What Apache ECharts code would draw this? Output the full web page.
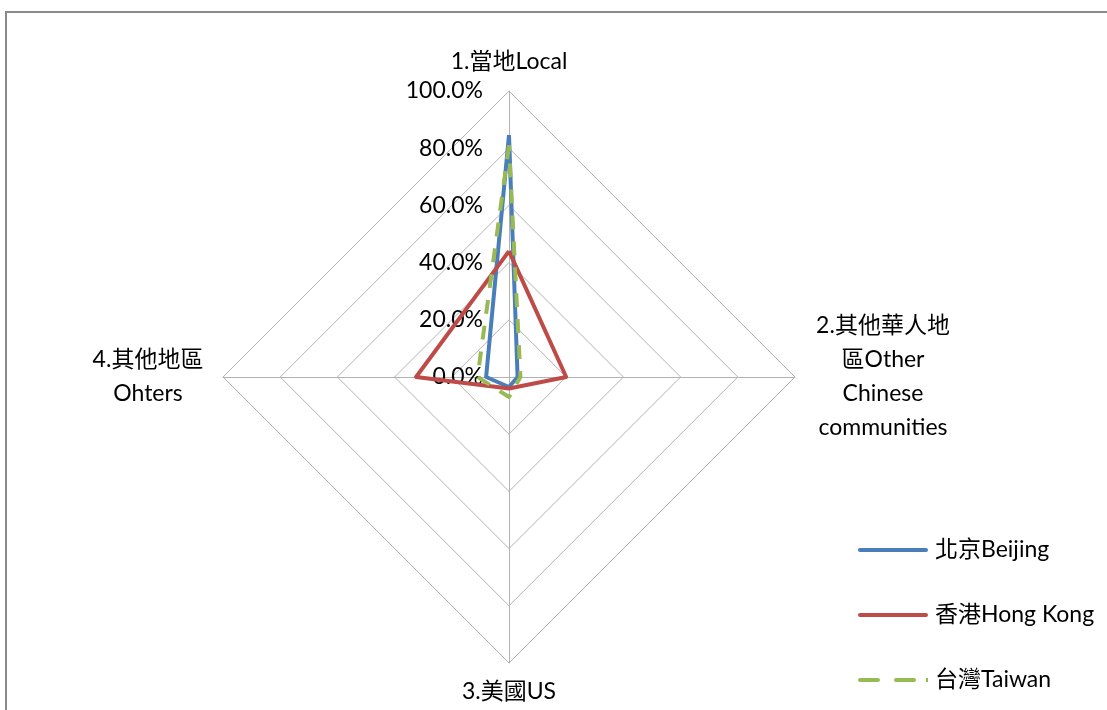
<!DOCTYPE html>
<html><head><meta charset="utf-8">
<script src="https://cdn.jsdelivr.net/npm/echarts@6/dist/echarts.min.js"></script>
<style>
html,body{margin:0;padding:0;background:#fff;}
#frame{position:absolute;left:5px;top:11px;width:1200px;height:800px;border-top:2px solid #8a8a8a;border-left:2px solid #8a8a8a;}
#chart{position:absolute;left:0;top:0;width:1107px;height:710px;}
</style></head>
<body>
<div id="frame"></div>
<div id="chart"></div>
<script>
var categories = ['1.當地Local', '4.其他地區\nOhters', '3.美國US', '2.其他華人地\n區Other\nChinese\ncommunities'];
var seriesNames = ['北京Beijing', '香港Hong Kong', '台灣Taiwan'];
var beijing = [84.6, 8.0, 3.5, 3.0];
var hongkong = [44.0, 32.5, 4.0, 20.0];
var taiwan = [81.0, 11.0, 7.0, 4.0];
var tickMax = 100;

var colors = ['#4a7ebb', '#be4b48', '#98b954'];
var font = 'Lato, "Noto Sans CJK TC", sans-serif';
var solidIcon = 'path://M2,0 L68,0 A2,2 0 0 1 68,4 L2,4 A2,2 0 0 1 2,0 Z';
var dashIcon = 'path://M2,0 L20,0 A2,2 0 0 1 20,4 L2,4 A2,2 0 0 1 2,0 Z M38,0 L56,0 A2,2 0 0 1 56,4 L38,4 A2,2 0 0 1 38,0 Z M68,0 L70,0 L70,4 L68,4 Z';

var chart = echarts.init(document.getElementById('chart'));
chart.setOption({
  animation: false,
  textStyle: {fontFamily: font},
  legend: {
    orient: 'vertical', left: 853, top: 531, itemWidth: 70, itemHeight: 4, itemGap: 37,
    textStyle: {fontSize: 23, color: '#000', fontFamily: font, padding: [0, 0, 0, 2], height: 28, lineHeight: 28},
    data: [
      {name: seriesNames[0], icon: solidIcon},
      {name: seriesNames[1], icon: solidIcon},
      {name: seriesNames[2], icon: dashIcon, itemStyle: {color: colors[2]}}
    ]
  },
  radar: {
    center: [509, 377], radius: 286, startAngle: 90, splitNumber: 5, shape: 'polygon',
    indicator: categories.map(function(c, i){
      return {name: c, min: 0, max: tickMax,
        axisLabel: {show: i === 0, fontSize: 23, margin: 26, color: '#000', fontFamily: font,
          padding: [8, 0, 0, 0],
          formatter: function(v){ return v.toFixed(1) + '%'; }}};
    }),
    axisName: {
      color: '#000', fontSize: 23, fontFamily: font, lineHeight: 34,
      formatter: function(name){
        var lines = name.split('\n');
        if (lines.length === 1) return name;
        var key = name.indexOf('Ohters') >= 0 ? 'l' : 'r';
        return lines.map(function(l){ return '{' + key + '|' + l + '}'; }).join('\n');
      },
      rich: {
        r: {width: 152, align: 'center', fontSize: 23, lineHeight: 34, fontFamily: font, color: '#000'},
        l: {width: 126, align: 'center', fontSize: 23, lineHeight: 34, fontFamily: font, color: '#000'}
      }
    },
    nameGap: 12,
    splitLine: {lineStyle: {color: '#b3b3b3', width: 1}},
    splitArea: {show: false},
    axisLine: {lineStyle: {color: '#b3b3b3', width: 1}},
    axisTick: {show: false},
    axisLabel: {show: false}
  },
  series: [{
    type: 'radar', symbol: 'none',
    data: [
      {name: seriesNames[0], value: beijing, lineStyle: {color: colors[0], width: 4}, itemStyle: {color: colors[0]}},
      {name: seriesNames[1], value: hongkong, lineStyle: {color: colors[1], width: 4}, itemStyle: {color: colors[1]}},
      {name: seriesNames[2], value: taiwan, lineStyle: {color: colors[2], width: 4, type: [14, 12]}, itemStyle: {color: colors[2]}}
    ]
  }]
});
</script>
</body></html>
